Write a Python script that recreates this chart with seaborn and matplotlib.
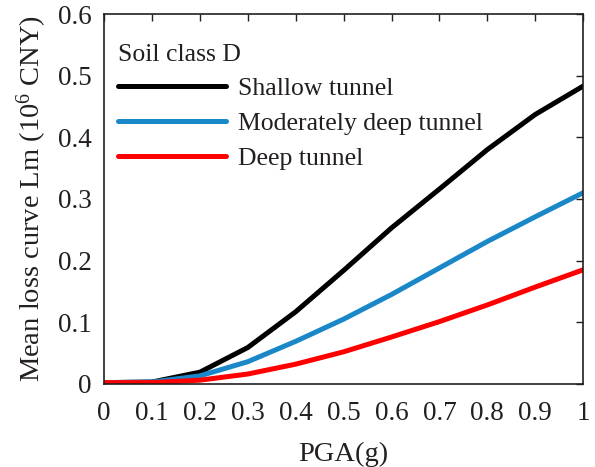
import numpy as np
import pandas as pd
import seaborn as sns
import matplotlib
matplotlib.use("Agg")
import matplotlib.pyplot as plt
from matplotlib.ticker import FuncFormatter, MultipleLocator

# Peak ground acceleration (g)
pga = [0.0, 0.1, 0.2, 0.3, 0.4, 0.5, 0.6, 0.7, 0.8, 0.9, 1.0]

# Mean loss (10^6 CNY) per tunnel depth class, soil class D
shallow = [0.002, 0.003, 0.019, 0.059, 0.117, 0.184, 0.253, 0.316, 0.380, 0.437, 0.483]
moderate = [0.002, 0.003, 0.013, 0.036, 0.069, 0.105, 0.145, 0.188, 0.231, 0.271, 0.310]
deep = [0.002, 0.002, 0.006, 0.016, 0.032, 0.052, 0.076, 0.101, 0.128, 0.157, 0.185]

series_names = ["Shallow tunnel", "Moderately deep tunnel", "Deep tunnel"]
series_colors = ["#000000", "#1a87c9", "#ff0000"]

df = pd.DataFrame({
    "PGA": pga * 3,
    "Loss": shallow + moderate + deep,
    "Tunnel": [series_names[0]] * len(pga) + [series_names[1]] * len(pga) + [series_names[2]] * len(pga),
})

sns.set_theme(style="white")
plt.rcParams["font.family"] = ["Liberation Serif", "DejaVu Serif"]
plt.rcParams["mathtext.fontset"] = "custom"
plt.rcParams["mathtext.rm"] = "Liberation Serif"
plt.rcParams["mathtext.it"] = "Liberation Serif:italic"

ink = "#231f20"

fig = plt.figure(figsize=(5.95, 4.67), dpi=100)
ax = fig.add_axes([0.175, 0.178, 0.805, 0.792])

sns.lineplot(
    data=df, x="PGA", y="Loss", hue="Tunnel",
    hue_order=series_names, palette=series_colors,
    linewidth=3.6, ax=ax,
)

ax.set_xlim(0, 1)
ax.set_ylim(0, 0.6)
ax.xaxis.set_major_locator(MultipleLocator(0.1))
ax.yaxis.set_major_locator(MultipleLocator(0.1))
fmt = FuncFormatter(lambda v, p: f"{round(v, 2):g}")
ax.xaxis.set_major_formatter(fmt)
ax.yaxis.set_major_formatter(fmt)

ax.tick_params(axis="both", which="major", direction="in", length=5, width=1.0,
               top=True, right=True, labelsize=19.5, colors=ink)
ax.tick_params(axis="x", pad=12)
ax.tick_params(axis="y", pad=9)
for s in ax.spines.values():
    s.set_visible(True)
    s.set_color(ink)
    s.set_linewidth(1.2)

ax.set_xlabel("PGA(g)", fontsize=20.5, color=ink, labelpad=12)
ax.set_ylabel(r"Mean loss curve Lm (10$^{6}$ CNY)", fontsize=20.5, color=ink, labelpad=6)

leg = ax.legend(
    title="Soil class D", loc="upper left", frameon=False,
    fontsize=18.5, title_fontsize=18.5, handlelength=4.2, handletextpad=0.45,
    labelspacing=0.45, borderaxespad=0.0, bbox_to_anchor=(0.008, 0.947),
)
leg._legend_box.align = "left"
for t in leg.get_texts():
    t.set_color(ink)
leg.get_title().set_color(ink)
for h in leg.get_lines():
    h.set_linewidth(3.6)

fig.savefig("out.png", dpi=100)
